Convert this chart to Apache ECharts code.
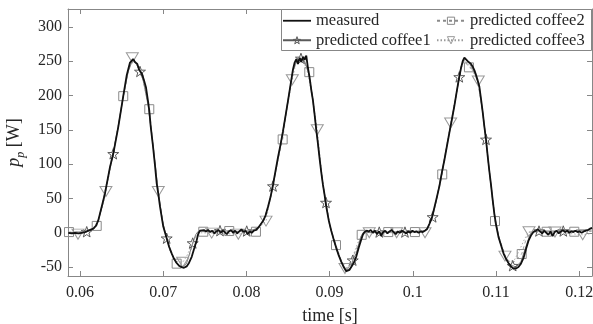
<!DOCTYPE html>
<html>
<head>
<meta charset="utf-8">
<script src="https://cdn.jsdelivr.net/npm/echarts@6/dist/echarts.min.js"></script>
<style>
  html, body { margin: 0; padding: 0; background: #fff; }
  #chart { width: 593px; height: 324px; }
</style>
</head>
<body>
<div id="chart"></div>
<script>
// Time axis [s] and power axis [W]
const xTicks = [0.06, 0.07, 0.08, 0.09, 0.1, 0.11, 0.12];
const yTicks = [-50, 0, 50, 100, 150, 200, 250, 300];

// measured power trace [t, p]
const measured = [
  [0.0586, 0], [0.0588, 1], [0.0590, -1], [0.0592, 1], [0.0594, 0], [0.0596, 2], [0.0598, -1],
  [0.0600, 1], [0.0602, 0], [0.0604, 2], [0.0606, 1], [0.0608, 2], [0.0610, 3],
  [0.0612, 4], [0.0616, 6], [0.06192, 10], [0.0622, 18], [0.06261, 38], [0.0630, 57],
  [0.06361, 96], [0.0640, 115], [0.0646, 154], [0.0652, 199], [0.06561, 229], [0.06601, 248],
  [0.0662, 246], [0.06641, 253], [0.0666, 249], [0.06689, 246], [0.0671, 238], [0.06742, 232],
  [0.0677, 222], [0.06793, 212], [0.0682, 190], [0.06833, 178], [0.0685, 155], [0.06874, 130],
  [0.0690, 100], [0.06922, 72], [0.06941, 57], [0.06962, 38], [0.07001, 9], [0.07042, -8],
  [0.0707, -20], [0.07102, -30], [0.0713, -38], [0.07162, -44], [0.0719, -48], [0.07222, -50],
  [0.0725, -51], [0.07282, -49], [0.0731, -44], [0.07343, -35], [0.0737, -24], [0.07403, -11],
  [0.0742, -2], [0.07442, 3],
  [0.07465, 5], [0.0749, 4], [0.07515, 2], [0.0754, 4], [0.07565, 1], [0.0759, 3], [0.07615, -1],
  [0.0764, 2], [0.07665, 4], [0.0769, 0], [0.07715, 3], [0.0774, 1], [0.07765, -2], [0.0779, 2],
  [0.07815, 4], [0.0784, 0], [0.07865, 3], [0.0789, -1], [0.07915, 2], [0.0794, 5], [0.07965, 1],
  [0.0799, 3], [0.08015, -2], [0.0804, 2], [0.08065, 0], [0.0809, 3], [0.08115, 4],
  [0.0814, 7], [0.0817, 12], [0.0820, 17], [0.0823, 25], [0.0826, 38], [0.0829, 52], [0.0832, 70],
  [0.0835, 90], [0.0838, 110], [0.0841, 128], [0.0844, 148], [0.0847, 170], [0.0850, 192],
  [0.0853, 215], [0.0856, 238], [0.0858, 248], [0.0860, 253], [0.0862, 246], [0.0864, 255],
  [0.0866, 249], [0.0868, 256], [0.0870, 252], [0.0872, 258], [0.0874, 240], [0.0876, 226],
  [0.0878, 208], [0.0880, 193], [0.0882, 172], [0.0884, 150], [0.0886, 130], [0.0888, 108],
  [0.0890, 88], [0.0892, 70], [0.0894, 55], [0.0896, 38], [0.0899, 18], [0.0902, 3],
  [0.0905, -10], [0.0908, -22], [0.0911, -33], [0.0914, -42], [0.0917, -50], [0.0920, -56],
  [0.0922, -57], [0.0924, -54], [0.0926, -52], [0.0929, -44], [0.0932, -35], [0.0935, -22],
  [0.0938, -10], [0.0940, -3], [0.0942, 1],
  [0.09445, 3], [0.0947, 2], [0.09495, 4], [0.0952, 0], [0.09545, 3], [0.0957, -2], [0.09595, 2],
  [0.0962, -4], [0.09645, 1], [0.0967, 3], [0.09695, -1], [0.0972, 2], [0.09745, 4], [0.0977, 1],
  [0.09795, -2], [0.0982, 2], [0.09845, 0], [0.0987, 3], [0.09895, 1], [0.0992, -1], [0.09945, 2],
  [0.0997, 0], [0.09995, 3], [0.1002, 1], [0.10045, 2], [0.1007, 0], [0.10095, 2], [0.1012, 1],
  [0.10145, 3],
  [0.1017, 5], [0.1020, 13], [0.1023, 22], [0.1026, 37], [0.1029, 52], [0.1032, 68], [0.1035, 88],
  [0.1038, 106], [0.1041, 126], [0.1044, 146], [0.1047, 165], [0.1050, 185], [0.1053, 207],
  [0.1056, 228], [0.1058, 240], [0.1060, 250], [0.1062, 255], [0.1064, 253], [0.1066, 250],
  [0.1068, 248], [0.1070, 246], [0.1072, 242], [0.1074, 237], [0.1076, 230], [0.1078, 222],
  [0.1080, 213], [0.1082, 195], [0.1084, 176], [0.1086, 155], [0.1088, 136], [0.1090, 112],
  [0.1092, 90], [0.1094, 70], [0.1096, 48], [0.1098, 28], [0.1100, 12], [0.1103, -6],
  [0.1106, -18], [0.1109, -30], [0.1112, -38], [0.1115, -44], [0.1118, -49], [0.1121, -52],
  [0.1124, -52], [0.1127, -50], [0.1130, -45], [0.1133, -37], [0.1136, -24], [0.1139, -12],
  [0.1142, -4], [0.1145, 1],
  [0.1148, 3], [0.11505, 5], [0.1153, 2], [0.11555, -1], [0.1158, 3], [0.11605, 0], [0.1163, -3],
  [0.11655, 2], [0.1168, -5], [0.11705, 1], [0.1173, 3], [0.11755, -1], [0.1178, 2], [0.11805, 4],
  [0.1183, 1], [0.11855, 3], [0.1188, 0], [0.11905, 2], [0.1193, 1], [0.11955, 3], [0.1198, 1],
  [0.12005, 2], [0.1203, 0], [0.12055, 2], [0.1208, 3], [0.12105, 4], [0.1213, 6], [0.12155, 7]
];

// predicted coffee1: line nodes and star marker points
const coffee1Line = [
  [0.0586, 0], [0.0595, 1], [0.0616, 5], [0.0622, 17], [0.0628, 45], [0.0634, 82], [0.0646, 155],
  [0.0652, 198], [0.0658, 235], [0.0663, 251], [0.0668, 245], [0.0676, 222], [0.0682, 185],
  [0.0688, 125], [0.0694, 60], [0.0699, 18], [0.0710, -30], [0.0716, -45], [0.0722, -50],
  [0.0728, -45], [0.0739, -3], [0.0742, 2], [0.0790, 2], [0.0806, 3], [0.0815, 8], [0.0822, 22],
  [0.0828, 46], [0.0838, 108], [0.0844, 148], [0.0850, 193], [0.0856, 236], [0.0861, 252],
  [0.0870, 250], [0.0875, 232], [0.0880, 193], [0.0886, 130], [0.0892, 70], [0.0900, 12],
  [0.0906, -15], [0.0912, -36], [0.0918, -52], [0.0922, -55], [0.0926, -50], [0.0932, -30],
  [0.0937, -8], [0.0940, 0], [0.1014, 3], [0.1018, 8], [0.1028, 45], [0.1036, 95], [0.1044, 146],
  [0.1050, 186], [0.1058, 242], [0.1062, 254], [0.1068, 247], [0.1075, 232], [0.1080, 212],
  [0.1084, 176], [0.1092, 90], [0.1098, 28], [0.1104, -10], [0.1110, -32], [0.1116, -46],
  [0.1124, -50], [0.1130, -42], [0.1136, -20], [0.1141, -2], [0.1144, 1], [0.1215, 4]
];
const coffee1Marks = [
  [0.06081, 1.5], [0.0640, 115], [0.06721, 235], [0.07042, -8], [0.07355, -15], [0.07683, 3],
  [0.08004, 2.5], [0.0832, 68], [0.08656, 254], [0.08957, 44], [0.09278, -40], [0.09597, 1],
  [0.09906, 1], [0.10239, 23], [0.10559, 227], [0.1088, 136], [0.11201, -48], [0.11517, 2.5],
  [0.11809, 2.5]
];

// predicted coffee2: line nodes and square marker points
const coffee2Line = [
  [0.0586, 1], [0.0606, 1], [0.0616, 5], [0.0626, 38], [0.0634, 84], [0.0646, 155], [0.0658, 236],
  [0.0663, 252], [0.0668, 246], [0.0676, 222], [0.0688, 126], [0.0694, 60], [0.0700, 12],
  [0.0708, -25], [0.0720, -50], [0.0726, -48], [0.0731, -35], [0.0736, -14], [0.0741, 0],
  [0.0746, 1.5], [0.0806, 2], [0.0815, 7], [0.0822, 20], [0.0828, 45], [0.0838, 106],
  [0.0850, 192], [0.0856, 236], [0.0861, 250], [0.0868, 252], [0.0880, 192], [0.0886, 130],
  [0.0892, 70], [0.0900, 12], [0.0914, -40], [0.0920, -52], [0.0924, -50], [0.0930, -30],
  [0.0936, -12], [0.0942, 0], [0.1014, 2], [0.1019, 9], [0.1026, 36], [0.1044, 146],
  [0.1050, 186], [0.1058, 240], [0.1062, 251], [0.1072, 238], [0.1078, 220], [0.1084, 176],
  [0.1092, 90], [0.1104, -8], [0.1112, -36], [0.1118, -44], [0.1122, -42], [0.1136, -10],
  [0.1140, 1], [0.1215, 2]
];
const coffee2Marks = [
  [0.05868, 1], [0.06201, 10], [0.0652, 199], [0.06833, 180], [0.07162, -45], [0.07482, 1.5],
  [0.07794, 2.5], [0.08115, 1.5], [0.08436, 136], [0.08756, 234], [0.09077, -18], [0.09386, -3],
  [0.09705, 1], [0.10026, 1], [0.10354, 85], [0.10675, 241], [0.10988, 17], [0.11309, -31],
  [0.11609, 1.5], [0.11941, 1.5]
];

// predicted coffee3: line nodes and triangle marker points
const coffee3Line = [
  [0.0586, -1], [0.0605, 0], [0.0614, 3], [0.0622, 18], [0.0628, 42], [0.0638, 103], [0.0646, 156],
  [0.0652, 198], [0.0658, 237], [0.0668, 247], [0.0676, 222], [0.0682, 186], [0.0688, 126],
  [0.0700, 10], [0.0708, -26], [0.0716, -42], [0.0728, -35], [0.0734, -18], [0.0740, -3],
  [0.0745, 0], [0.0806, 0], [0.0816, 8], [0.0828, 45], [0.0838, 108], [0.0846, 163],
  [0.0860, 250], [0.0868, 253], [0.0874, 232], [0.0880, 192], [0.0892, 70], [0.0900, 12],
  [0.0908, -24], [0.0914, -42], [0.0922, -50], [0.0927, -38], [0.0934, -14], [0.0940, -1],
  [0.1013, 1], [0.1019, 9], [0.1028, 45], [0.1036, 95], [0.1050, 186], [0.1058, 240],
  [0.1062, 252], [0.1070, 240], [0.1084, 176], [0.1092, 90], [0.1100, 10], [0.1106, -18],
  [0.1116, -42], [0.1122, -40], [0.1128, -26], [0.1134, -10], [0.1139, 1], [0.1215, -1]
];
const coffee3Marks = [
  [0.05976, -2], [0.06312, 60], [0.06629, 255], [0.06941, 60], [0.07234, -43], [0.07583, -0.5],
  [0.07903, -2], [0.08236, 17], [0.08552, 223], [0.08852, 150], [0.09185, -52], [0.09477, 0],
  [0.09806, 0], [0.10147, 0], [0.10455, 160], [0.10787, 221], [0.11108, -34], [0.11397, 1.5],
  [0.11709, 1], [0.12042, -3]
];

const FONT = 'Liberation Serif';
const AXIS_GRAY = '#878787';
const TEXT = '#262626';
const C1 = '#5a5a5a', C2 = '#8a8a8a', C3 = '#9a9a9a';
const HOLLOW = 'rgba(0,0,0,0)';

// a line through the nodes, with markers drawn only at the marker points
function withMarkers(line, marks) {
  const pts = line.map(p => ({ value: p, symbol: 'none' }))
    .concat(marks.map(p => ({ value: p })));
  pts.sort((a, b) => a.value[0] - b.value[0]);
  return pts;
}

const STAR = 'path://M0,-10L2.35,-3.24L9.51,-3.09L3.8,1.24L5.88,8.09L0,4L-5.88,8.09L-3.8,1.24L-9.51,-3.09L-2.35,-3.24Z';
const TRI_DOWN = 'path://M0,0L12,0L6,10Z';
const PLAIN_LINE = 'path://M0,0L28,0L28,1.8L0,1.8Z';

const chart = echarts.init(document.getElementById('chart'), null, { renderer: 'canvas' });

const tickFmt = v => String(Math.round(v * 100) / 100);

const xBase = {
  type: 'value', min: 0.05856, max: 0.12154,
  axisLine: { onZero: false, lineStyle: { color: AXIS_GRAY, width: 1 } },
  axisTick: { inside: true, length: 5, customValues: xTicks, lineStyle: { color: AXIS_GRAY } },
  splitLine: { show: false }
};
const yBase = {
  type: 'value', min: -63, max: 326,
  axisLine: { onZero: false, lineStyle: { color: AXIS_GRAY, width: 1 } },
  axisTick: { inside: true, length: 5, customValues: yTicks, lineStyle: { color: AXIS_GRAY } },
  splitLine: { show: false }
};

const legendText = { fontFamily: FONT, fontSize: 16.5, color: TEXT, lineHeight: 19.5 };
const legendBase = {
  orient: 'vertical', top: 11, padding: 0, itemWidth: 28, itemHeight: 9, itemGap: 0,
  selectedMode: false, z: 8, textStyle: legendText
};

chart.setOption({
  animation: false,
  backgroundColor: '#fff',
  grid: { left: 68, right: 1, top: 9, bottom: 48, containLabel: false, outerBoundsMode: 'none' },
  xAxis: [
    Object.assign({}, xBase, {
      position: 'bottom',
      name: 'time [s]', nameLocation: 'middle', nameGap: 31,
      nameTextStyle: { fontFamily: FONT, fontSize: 18, color: TEXT },
      axisLabel: { customValues: xTicks, formatter: tickFmt, margin: 9,
        fontFamily: FONT, fontSize: 16, color: TEXT }
    }),
    Object.assign({}, xBase, { position: 'top', axisLabel: { show: false } })
  ],
  yAxis: [
    Object.assign({}, yBase, {
      position: 'left',
      name: '{i|p}{s|p}{n| [W]}', nameLocation: 'middle', nameGap: 24, nameRotate: 90,
      nameTextStyle: {
        fontFamily: FONT, color: TEXT,
        rich: {
          i: { fontFamily: FONT, fontStyle: 'italic', fontSize: 18, color: TEXT, lineHeight: 26, verticalAlign: 'middle' },
          s: { fontFamily: FONT, fontStyle: 'italic', fontSize: 12, color: TEXT, lineHeight: 26, verticalAlign: 'bottom' },
          n: { fontFamily: FONT, fontSize: 18, color: TEXT, lineHeight: 26, verticalAlign: 'middle' }
        }
      },
      axisLabel: { customValues: yTicks, margin: 6, fontFamily: FONT, fontSize: 16, color: TEXT }
    }),
    Object.assign({}, yBase, { position: 'right', axisLabel: { show: false } })
  ],
  legend: [
    Object.assign({}, legendBase, {
      left: 282,
      data: [
        { name: 'measured', icon: PLAIN_LINE },
        { name: 'predicted coffee1', itemStyle: { color: HOLLOW, borderColor: C1, borderWidth: 1 } }
      ]
    }),
    Object.assign({}, legendBase, {
      left: 436,
      data: [
        { name: 'predicted coffee2', itemStyle: { color: HOLLOW, borderColor: C2, borderWidth: 1 } },
        { name: 'predicted coffee3', itemStyle: { color: HOLLOW, borderColor: C3, borderWidth: 1 } }
      ]
    })
  ],
  graphic: [{
    type: 'rect', z: 6,
    shape: { x: 281.5, y: 9.5, width: 310, height: 41 },
    style: { fill: '#fff', stroke: AXIS_GRAY, lineWidth: 1 }
  }],
  series: [
    {
      name: 'measured', type: 'line', z: 3, symbol: 'none',
      data: measured,
      lineStyle: { color: '#111', width: 1.8 },
      itemStyle: { color: '#111' }
    },
    {
      name: 'predicted coffee1', type: 'line', z: 2,
      data: withMarkers(coffee1Line, coffee1Marks),
      symbol: STAR, symbolSize: 11, symbolKeepAspect: true, showAllSymbol: true,
      lineStyle: { color: C1, width: 0.8 },
      itemStyle: { color: HOLLOW, borderColor: C1, borderWidth: 1 }
    },
    {
      name: 'predicted coffee2', type: 'line', z: 2,
      data: withMarkers(coffee2Line, coffee2Marks),
      symbol: 'rect', symbolSize: 9, showAllSymbol: true,
      lineStyle: { color: C2, width: 0.8, type: [3, 3] },
      itemStyle: { color: HOLLOW, borderColor: C2, borderWidth: 1 }
    },
    {
      name: 'predicted coffee3', type: 'line', z: 2,
      data: withMarkers(coffee3Line, coffee3Marks),
      symbol: TRI_DOWN, symbolSize: [12, 10], showAllSymbol: true,
      lineStyle: { color: C3, width: 0.8, type: [1.5, 2] },
      itemStyle: { color: HOLLOW, borderColor: C3, borderWidth: 1 }
    }
  ]
});
</script>
</body>
</html>
